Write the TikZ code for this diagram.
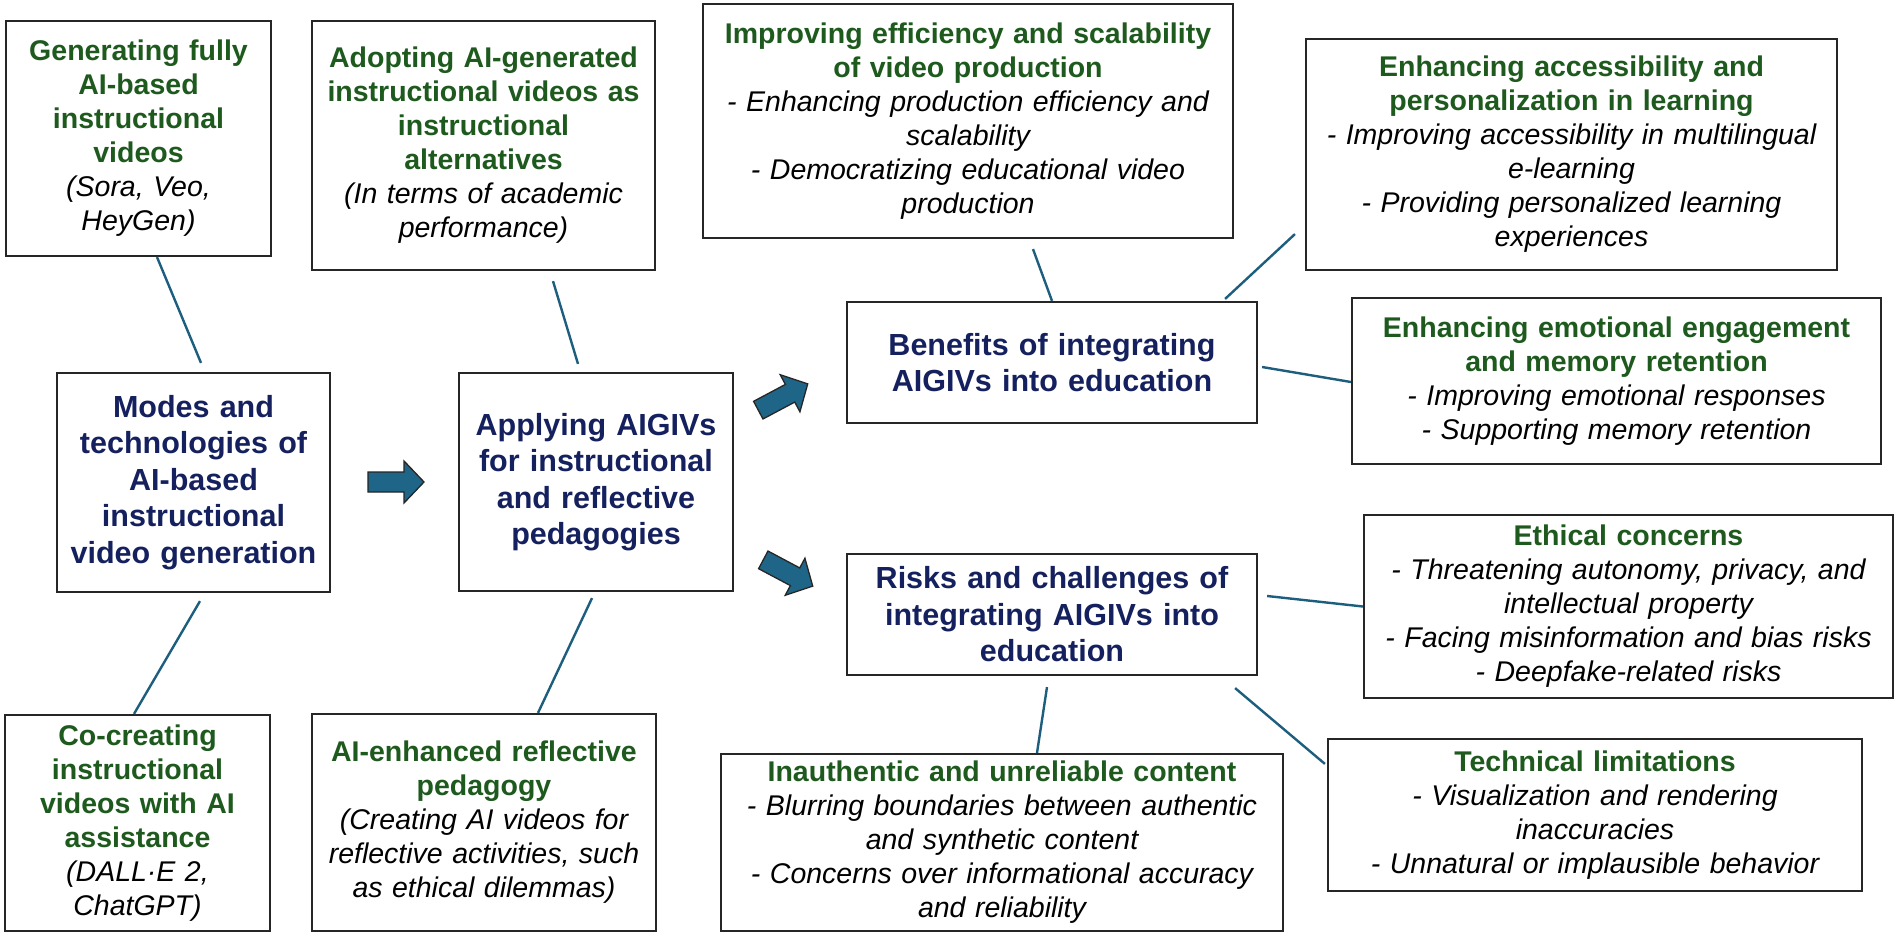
\documentclass[tikz,border=0pt]{standalone}
\usepackage{fontspec}
\setmainfont{Liberation Sans}
\usetikzlibrary{calc}
\definecolor{gtitle}{HTML}{1E5A1E}
\definecolor{ntitle}{HTML}{15205E}
\definecolor{conncol}{HTML}{1D5E7E}
\definecolor{arrowfill}{HTML}{1F6587}
\definecolor{boxline}{HTML}{262626}
\begin{document}
\begin{tikzpicture}[x=1pt, y=-1pt,
  box/.style={draw=boxline, line width=2.2pt, align=center, inner sep=0pt,
    font=\fontsize{28.5}{34}\selectfont},
  nbox/.style={box, text=ntitle, font=\fontsize{30.5}{36.5}\selectfont\bfseries},
  link/.style={draw=conncol, line width=2.4pt},
  barrow/.pic={\draw[fill=arrowfill, draw=black!85, line width=1.3pt]
     (-28,-10) -- (8,-10) -- (8,-21) -- (28,0) -- (8,21) -- (8,10) -- (-28,10) -- cycle;}
]
\fill[white] (0,0) rectangle (1901,935);
\useasboundingbox (0,0) rectangle (1901,935);

% top row
\node[box, minimum width=265, minimum height=235, text width=255] (b1) at (138.5,138.5)
 {{\color{gtitle}\bfseries Generating fully\\AI-based\\instructional\\videos}\\\itshape (Sora, Veo,\\HeyGen)};
\node[box, minimum width=343, minimum height=249, text width=333] (b2) at (483.5,145.5)
 {{\color{gtitle}\bfseries Adopting AI-generated\\instructional videos as\\instructional\\alternatives}\\\itshape (In terms of academic\\performance)};
\node[box, minimum width=530, minimum height=234, text width=520] (b3) at (968,121)
 {{\color{gtitle}\bfseries Improving efficiency and scalability\\of video production}\\\itshape - Enhancing production efficiency and\\scalability\\- Democratizing educational video\\production};
\node[box, minimum width=531, minimum height=231, text width=521] (b4) at (1571.5,154.5)
 {{\color{gtitle}\bfseries Enhancing accessibility and\\personalization in learning}\\\itshape - Improving accessibility in multilingual\\e-learning\\- Providing personalized learning\\experiences};
\node[box, minimum width=529, minimum height=166, text width=519] (b5) at (1616.5,381)
 {{\color{gtitle}\bfseries Enhancing emotional engagement\\and memory retention}\\\itshape - Improving emotional responses\\- Supporting memory retention};

% middle
\node[nbox, minimum width=273, minimum height=219, text width=263] (modes) at (193.5,482.5)
 {Modes and\\technologies of\\AI-based\\instructional\\video generation};
\node[nbox, minimum width=274, minimum height=218, text width=264] (apply) at (596,482)
 {Applying AIGIVs\\for instructional\\and reflective\\pedagogies};
\node[nbox, minimum width=410, minimum height=121, text width=400] (ben) at (1052,362.5)
 {Benefits of integrating\\AIGIVs into education};
\node[nbox, minimum width=410, minimum height=121, text width=400] (risk) at (1052,614.5)
 {Risks and challenges of\\integrating AIGIVs into\\education};
\node[box, minimum width=529, minimum height=183, text width=519] (eth) at (1628.5,606.5)
 {{\color{gtitle}\bfseries Ethical concerns}\\\itshape - Threatening autonomy, privacy, and\\intellectual property\\- Facing misinformation and bias risks\\- Deepfake-related risks};

% bottom row
\node[box, minimum width=265, minimum height=216, text width=255] (cocr) at (137.5,823)
 {{\color{gtitle}\bfseries Co-creating\\instructional\\videos with AI\\assistance}\\\itshape (DALL·E 2,\\ChatGPT)};
\node[box, minimum width=344, minimum height=217, text width=334] (refl) at (484,822.5)
 {{\color{gtitle}\bfseries AI-enhanced reflective\\pedagogy}\\\itshape (Creating AI videos for\\reflective activities, such\\as ethical dilemmas)};
\node[box, minimum width=562, minimum height=177, text width=552] (inau) at (1002,842.5)
 {{\color{gtitle}\bfseries Inauthentic and unreliable content}\\\itshape - Blurring boundaries between authentic\\and synthetic content\\- Concerns over informational accuracy\\and reliability};
\node[box, minimum width=534, minimum height=152, text width=524] (tech) at (1595,815)
 {{\color{gtitle}\bfseries Technical limitations}\\\itshape - Visualization and rendering\\inaccuracies\\- Unnatural or implausible behavior};

% connectors
\draw[link] ($(b1.south)+(18.5,0)$) -- ($(modes.north)+(7.5,-9)$);
\draw[link] ($(cocr.north)+(-3.5,0)$) -- ($(modes.south)+(6.5,8)$);
\draw[link] ($(b2.south)+(69.5,10)$) -- ($(apply.north)+(-18,-8)$);
\draw[link] ($(refl.north)+(54,0)$) -- ($(apply.south)+(-4,6)$);
\draw[link] ($(b3.south)+(65,10)$) -- (ben.north);
\draw[link] ($(b4.south west)+(-10,-37)$) -- ($(ben.north east)+(-33,-2)$);
\draw[link] ($(ben.east)+(4,4.5)$) -- ($(b5.west)+(0,1)$);
\draw[link] ($(risk.east)+(9,-18.5)$) -- (eth.west);
\draw[link] ($(risk.south east)+(-23,12)$) -- ($(tech.north west)+(-2,26)$);
\draw[link] ($(risk.south)+(-5,11)$) -- ($(inau.north)+(35,0)$);

% block arrows
\pic at (396,482) {barrow};
\pic[rotate=28] at (783,397) {barrow};
\pic[rotate=-28] at (788,573) {barrow};
\end{tikzpicture}
\end{document}
